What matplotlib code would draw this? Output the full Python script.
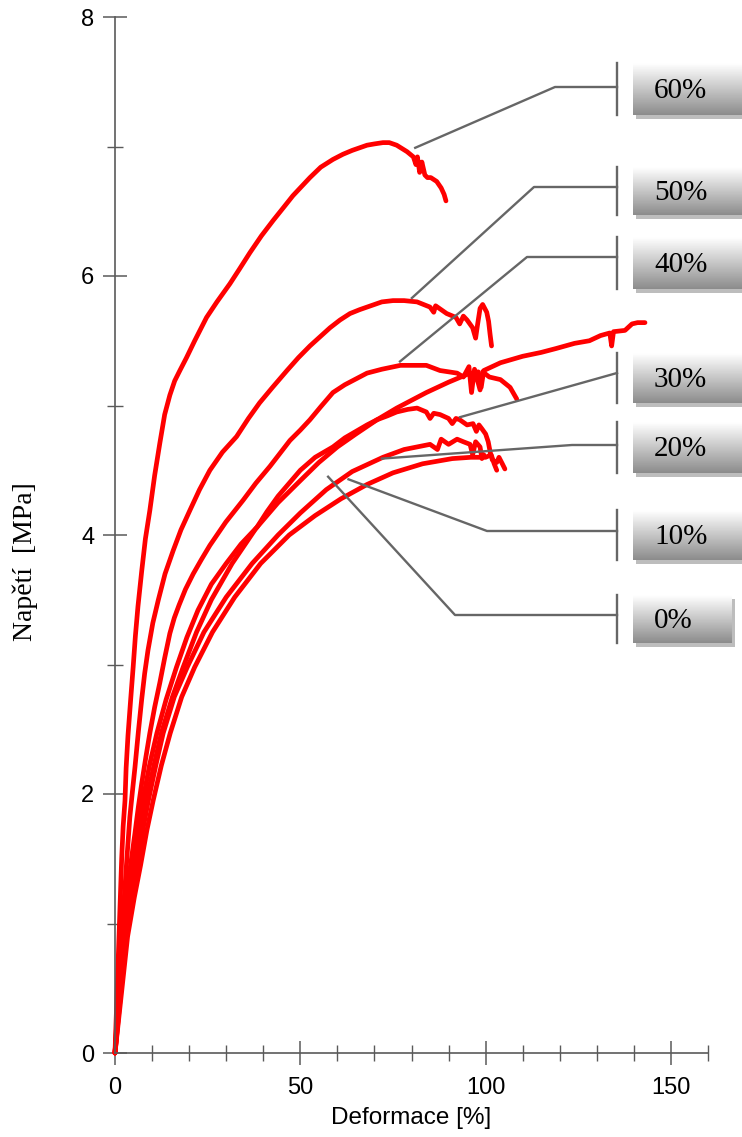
import numpy as np
import matplotlib
matplotlib.use("Agg")
import matplotlib.pyplot as plt

# ---------------------------------------------------------------------------
# data (deformation [%], stress [MPa])
# ---------------------------------------------------------------------------
x_60 = [0, 0.3, 0.6, 0.9, 1.2, 1.8, 2.2, 2.7, 3.0, 3.5, 4.2, 4.9, 5.5, 6.2, 7.2, 8.2, 9.4, 10.7,
        12.1, 13.4, 14.8, 16.1, 17.5, 19.3, 21.5, 24.7, 27.5, 31, 33.5, 36.4, 39.5, 42.7, 45.5,
        48, 50.3, 52.6, 55.5, 58.8, 61.5, 64, 66, 68, 70, 72.3, 74, 76, 78.8, 80.5, 81.2, 81.6,
        82.2, 82.8, 83.6, 84.3, 85.2, 86.8, 88, 88.8, 89.3]
y_60 = [0, 0.25, 0.5, 0.75, 1.0, 1.5, 1.75, 1.95, 2.2, 2.45, 2.72, 2.98, 3.22, 3.45, 3.72, 3.97,
        4.19, 4.46, 4.71, 4.93, 5.08, 5.19, 5.27, 5.37, 5.50, 5.68, 5.80, 5.94, 6.05, 6.18, 6.31,
        6.43, 6.53, 6.62, 6.69, 6.76, 6.84, 6.90, 6.94, 6.97, 6.99, 7.01, 7.02, 7.03, 7.03, 7.01,
        6.96, 6.92, 6.86, 6.92, 6.80, 6.88, 6.78, 6.76, 6.76, 6.73, 6.68, 6.63, 6.58]

x_50 = [0, 0.6, 1.2, 1.8, 2.5, 3.2, 4.0, 4.7, 5.4, 6.3, 7.2, 8.0, 8.9, 10.2, 11.7, 13.5, 15.7,
        17.8, 20.2, 22.8, 25.6, 29, 32.8, 36, 39, 42.5, 46.4, 49.5, 52.6, 55.3, 58, 60.7, 63.4,
        66, 69, 72, 75, 78, 81.5, 85, 86, 86.5, 89.5, 92, 93, 94, 95, 96.5, 97.3, 97.8, 98.5,
        99.2, 100.3, 100.8, 101.2, 101.6]
y_50 = [0, 0.3, 0.6, 0.9, 1.2, 1.5, 1.82, 2.02, 2.21, 2.48, 2.73, 2.93, 3.11, 3.32, 3.50, 3.70,
        3.88, 4.04, 4.19, 4.35, 4.50, 4.64, 4.76, 4.90, 5.02, 5.14, 5.27, 5.37, 5.46, 5.53, 5.60,
        5.66, 5.71, 5.74, 5.77, 5.80, 5.81, 5.81, 5.80, 5.76, 5.72, 5.77, 5.71, 5.68, 5.63, 5.69,
        5.66, 5.60, 5.52, 5.62, 5.75, 5.78, 5.72, 5.65, 5.55, 5.46]

x_40 = [0, 0.7, 1.5, 2.2, 3, 4.2, 5.4, 6.3, 7.2, 8.3, 9.4, 10.7, 12.1, 13.4, 14.8, 16, 17.3, 19,
        21.1, 23.3, 25.6, 29.9, 34.6, 38, 41.8, 44.5, 47.2, 50, 52.6, 55.5, 58.8, 62, 68, 72, 77,
        84, 87.7, 92.3, 94, 95.5, 96.2, 97, 98.5, 99.2, 101, 104, 106.6, 108.4]
y_40 = [0, 0.3, 0.6, 0.9, 1.2, 1.45, 1.70, 1.90, 2.08, 2.28, 2.47, 2.67, 2.86, 3.05, 3.24, 3.36,
        3.46, 3.58, 3.70, 3.81, 3.92, 4.10, 4.27, 4.40, 4.53, 4.63, 4.73, 4.81, 4.89, 4.99, 5.10,
        5.16, 5.25, 5.28, 5.31, 5.31, 5.27, 5.25, 5.22, 5.30, 5.10, 5.28, 5.12, 5.26, 5.22, 5.20,
        5.14, 5.05]

x_30 = [0, 1.2, 2.5, 3.7, 5, 6.2, 7.5, 9.3, 11.3, 13.8, 16.6, 19.4, 22.4, 26, 30, 34, 38.3, 41,
        44, 47, 50, 54, 58.8, 62, 65, 68, 70.7, 73.5, 76, 79, 81.5, 84, 85, 86, 87.7, 90, 91, 92,
        93, 95, 96.6, 97.5, 98.2, 99, 100, 100.7, 101.3, 101.8, 103, 103.6, 104.5, 105.2]
y_30 = [0, 0.45, 0.9, 1.2, 1.45, 1.7, 1.95, 2.22, 2.47, 2.73, 2.98, 3.21, 3.42, 3.62, 3.78, 3.93,
        4.06, 4.18, 4.30, 4.40, 4.50, 4.60, 4.68, 4.75, 4.80, 4.85, 4.89, 4.92, 4.95, 4.97, 4.98,
        4.95, 4.90, 4.94, 4.93, 4.90, 4.86, 4.90, 4.89, 4.85, 4.86, 4.80, 4.85, 4.82, 4.78, 4.72,
        4.63, 4.58, 4.56, 4.60, 4.55, 4.51]

x_20 = [0, 1.5, 3, 4.5, 6, 7.5, 9, 11, 13, 16, 19.5, 24, 30, 37, 44, 50, 57, 64, 72.3, 78, 81.5,
        85, 87, 88, 90, 92.3, 94, 95.8, 96.5, 97.3, 98.5, 99, 99.5]
y_20 = [0, 0.45, 0.9, 1.2, 1.45, 1.72, 1.95, 2.22, 2.47, 2.75, 2.98, 3.25, 3.52, 3.78, 4.0, 4.17,
        4.35, 4.49, 4.60, 4.66, 4.68, 4.70, 4.66, 4.74, 4.70, 4.74, 4.72, 4.70, 4.62, 4.72, 4.68,
        4.59, 4.62]

x_10 = [0, 1.4, 2.8, 4.2, 5.5, 7, 8.5, 10.5, 12.5, 15.5, 18.4, 22, 26, 31.6, 38, 44, 50, 55, 60,
        65, 70.7, 76, 80, 84, 90, 95, 98, 98.8, 99.5, 104, 110, 115, 119, 124, 128, 131, 133.5,
        134, 134.5, 137.6, 139.5, 141, 143]
y_10 = [0, 0.45, 0.9, 1.2, 1.45, 1.72, 1.95, 2.22, 2.47, 2.75, 2.98, 3.25, 3.50, 3.78, 4.05, 4.25,
        4.42, 4.56, 4.68, 4.78, 4.89, 4.98, 5.04, 5.10, 5.18, 5.24, 5.26, 5.14, 5.27, 5.33, 5.38,
        5.41, 5.44, 5.48, 5.50, 5.54, 5.56, 5.46, 5.57, 5.58, 5.63, 5.64, 5.64]

x_0 = [0, 1.7, 3.4, 5.2, 6.9, 8.6, 10.3, 12.5, 14.9, 18, 21.5, 26.3, 32.3, 39.3, 47, 54, 61, 68,
       75, 83, 91, 96, 100, 101.5, 102.3, 103]
y_0 = [0, 0.45, 0.9, 1.2, 1.45, 1.72, 1.95, 2.22, 2.47, 2.75, 2.98, 3.25, 3.52, 3.78, 4.0, 4.15,
       4.28, 4.39, 4.48, 4.55, 4.59, 4.60, 4.60, 4.62, 4.55, 4.50]

curves = [(x_60, y_60), (x_50, y_50), (x_40, y_40), (x_30, y_30),
          (x_20, y_20), (x_10, y_10), (x_0, y_0)]

# labels on the right and the point on each curve the leader goes to
labels = ["60%", "50%", "40%", "30%", "20%", "10%", "0%"]
anchor_x = [81.0, 80.1, 76.9, 93.1, 72.0, 63.0, 57.5]
anchor_y = [6.99, 5.83, 5.34, 4.91, 4.59, 4.43, 4.45]

# label layout in figure pixels: box top, box bottom, leader y, elbow x (None = straight)
box_top = [63, 167, 237, 353, 422, 510, 595]
box_bot = [115, 215, 289, 403, 473, 560, 643]
lead_y = [87, 187, 257, 373, 445, 531, 615]
elbow_x = [555, 534, 527, None, 572, 487, 455]
box_right = [760, 760, 760, 760, 760, 760, 732]

W, H = 742, 1137
fig = plt.figure(figsize=(W / 100, H / 100), dpi=100)
ax = fig.add_axes([115 / W, (H - 1053) / H, (708 - 115) / W, (1053 - 17) / H])

for xs, ys in curves:
    ax.plot(xs, ys, color="#ff0000", lw=3.4, solid_joinstyle="round", solid_capstyle="round",
            clip_on=False)

ax.set_xlim(0, 160)
ax.set_ylim(0, 8)
ax.set_xticks([0, 50, 100, 150])
ax.set_xticks(np.arange(0, 161, 10), minor=True)
ax.set_yticks([0, 2, 4, 6, 8])
ax.set_yticks(np.arange(0, 9, 1), minor=True)
for s in ["top", "right"]:
    ax.spines[s].set_visible(False)
axis_col = "#5a5a5a"
for s in ["left", "bottom"]:
    ax.spines[s].set_color(axis_col)
    ax.spines[s].set_linewidth(1.2)
ax.tick_params(which="major", direction="inout", length=17, width=1.1, color=axis_col,
               labelsize=17, labelfontfamily="Liberation Sans")
ax.tick_params(which="minor", direction="inout", length=11.5, width=1.0, color=axis_col)
ax.tick_params(axis="x", which="major", pad=8.5)
ax.tick_params(axis="y", which="major", pad=6.5)
ax.set_xlabel("Deformace [%]", fontsize=17.5, family="Liberation Sans", labelpad=6)
fig.text(25 / W, 1 - 562 / H, "Napětí  [MPa]", rotation=90, ha="center", va="center",
         fontsize=20, family="Liberation Serif")

# overlay in pixel coordinates for the labels
ov = fig.add_axes([0, 0, 1, 1])
ov.set_xlim(0, W)
ov.set_ylim(H, 0)
ov.axis("off")
ov.patch.set_alpha(0)

to_px = ax.transData + ov.transData.inverted()
grad = np.linspace(1.0, 0.55, 64).reshape(-1, 1)
lead_col = "#666666"
bar_x = 617
box_x = 633

for i, lab in enumerate(labels):
    ax_px, ay_px = to_px.transform((anchor_x[i], anchor_y[i]))
    if elbow_x[i] is None:
        ov.plot([ax_px, bar_x], [ay_px, lead_y[i]], color=lead_col, lw=1.7)
    else:
        ov.plot([ax_px, elbow_x[i], bar_x], [ay_px, lead_y[i], lead_y[i]], color=lead_col, lw=1.7)
    ov.plot([bar_x, bar_x], [box_top[i], box_bot[i]], color=lead_col, lw=1.7)
    # shadow
    ov.add_patch(plt.Rectangle((box_x + 3, box_top[i] + 4), box_right[i] - box_x,
                               box_bot[i] - box_top[i], color="#bdbdbd", lw=0))
    ov.imshow(grad, cmap="gray", vmin=0, vmax=1, aspect="auto",
              extent=(box_x, box_right[i], box_bot[i], box_top[i]), zorder=3)
    ov.text(box_x + 21, (box_top[i] + box_bot[i]) / 2 + 2, lab, fontsize=21,
            family="Liberation Serif", va="center", ha="left", zorder=4)

ov.set_xlim(0, W)
ov.set_ylim(H, 0)
fig.savefig("out.png", dpi=100)
